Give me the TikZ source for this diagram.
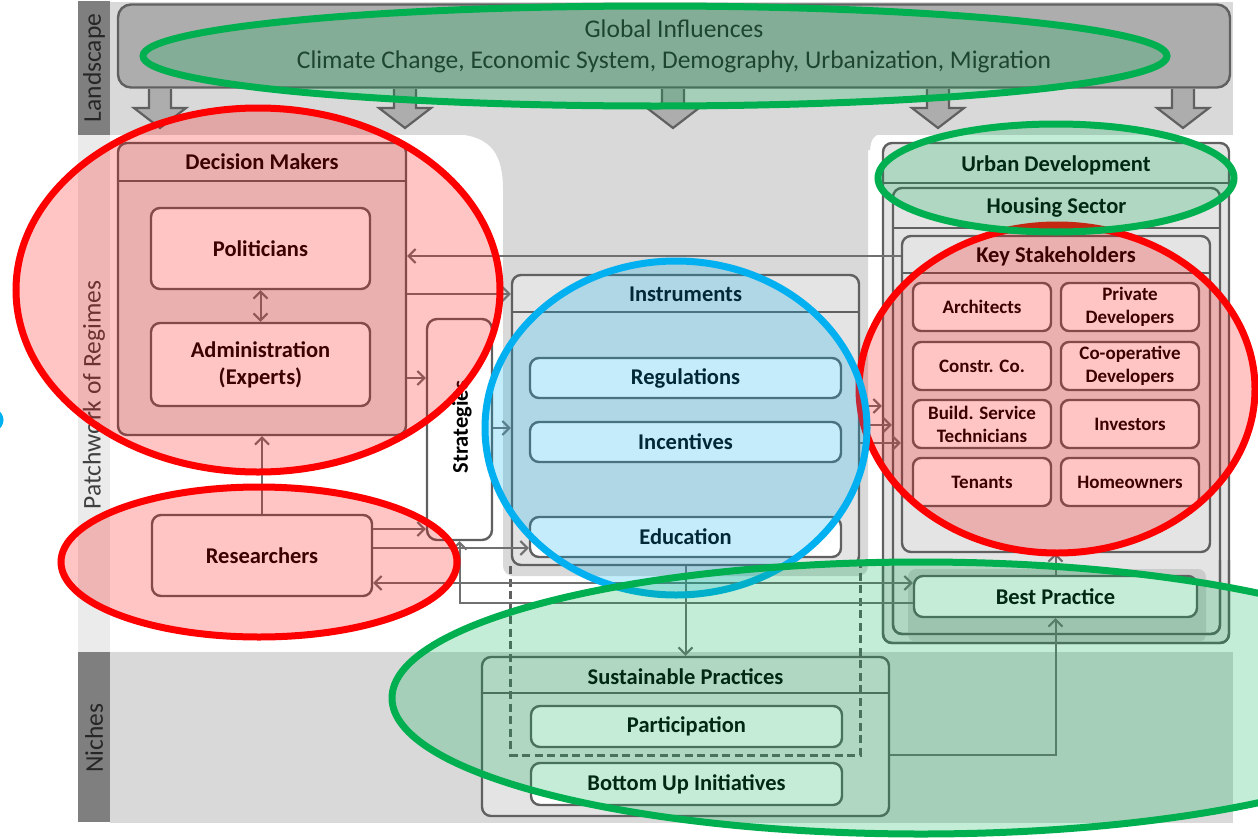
\documentclass[tikz,border=0pt]{standalone}
\usepackage{fontspec}
\setmainfont{Carlito}
\usetikzlibrary{arrows.meta,calc}
\definecolor{bandgray}{HTML}{D9D9D9}
\definecolor{labdark}{HTML}{7F7F7F}
\definecolor{lablight}{HTML}{EBEBEB}
\definecolor{gifill}{HTML}{ADADAD}
\definecolor{contfill}{HTML}{E4E4E4}
\definecolor{bordc}{HTML}{606060}
\definecolor{linec}{HTML}{707070}
\definecolor{shadowc}{HTML}{CBCBCB}
\definecolor{ovred}{HTML}{FF0000}
\definecolor{ovblue}{HTML}{00B0F0}
\definecolor{ovgreen}{HTML}{00B050}
\definecolor{darktext}{HTML}{262626}
\begin{document}
\begin{tikzpicture}[x=1pt,y=-1pt,
  cont/.style={draw=bordc, line width=2.4pt, fill=contfill, rounded corners=9pt, inner sep=0pt},
  ibox/.style={draw=bordc, line width=2.4pt, fill=white, rounded corners=9pt, inner sep=0pt, align=center,
    font=\bfseries\fontsize{22.5}{27}\selectfont},
  sbox/.style={draw=bordc, line width=2.4pt, fill=white, rounded corners=8pt, inner sep=0pt, align=center,
    minimum width=138pt, minimum height=48pt, font=\bfseries\fontsize{19}{23}\selectfont},
  hdr/.style={font=\bfseries\fontsize{22.5}{27}\selectfont, inner sep=0pt},
  hline/.style={draw=bordc, line width=2.4pt},
  conn/.style={draw=linec, line width=2pt, -{Straight Barb[length=7pt,width=14pt]}},
  conn2/.style={draw=linec, line width=2pt, {Straight Barb[length=7pt,width=14pt]}-{Straight Barb[length=7pt,width=14pt]}},
  blockarrow/.style={fill=gifill, draw=bordc, line width=2.2pt, line join=miter},
  bandlbl/.style={rotate=90, font=\fontsize{25.5}{28}\selectfont, text=darktext, inner sep=0pt},
  ovfill/.style={fill opacity=0.23},
  ovline/.style={line width=7pt}
]
\useasboundingbox (0,0) rectangle (1258,838);
% ---------- background bands ----------
\fill[bandgray] (110,2) rectangle (1233,135);
\fill[bandgray] (110,652) rectangle (1233,823);
\fill[bandgray, rounded corners=10pt] (503,110) rectangle (868,576);
\fill[bandgray] (455,134) .. controls (492,136) and (503,155) .. (503,190) -- (503,134) -- cycle;
\fill[bandgray] (868,134) -- (880,134) .. controls (873,136) and (871,140) .. (870,150) -- (868,150) -- cycle;
\fill[labdark] (78,1) rectangle (110,135);
\fill[lablight] (78,135) rectangle (110,652);
\fill[labdark] (78,652) rectangle (110,822);
\node[bandlbl] (lland) at (94,68) {Landscape};
\node[bandlbl, text=black!75] (lreg) at (94,395) {Patchwork of Regimes};
\node[bandlbl] (lniche) at (94,738) {Niches};
% ---------- global influences ----------
\node[draw=bordc, line width=2.4pt, fill=gifill, rounded corners=13pt, minimum width=1112pt, minimum height=83pt,
  inner sep=0pt, align=center, font=\fontsize{25.5}{31}\selectfont, text=darktext] (gi) at (674,46)
  {Global Influences\\Climate Change, Economic System, Demography, Urbanization, Migration};
\foreach \xx in {160,405,673,938,1183}{
  \draw[blockarrow] (\xx-11,89) -- (\xx-11,108) -- (\xx-26,108) -- (\xx,128) -- (\xx+26,108) -- (\xx+11,108) -- (\xx+11,89);
}
% ---------- decision makers ----------
\node[cont, minimum width=288pt, minimum height=292pt] (dm) at (262,289) {};
\node[hdr] (dmh) at (262,162) {Decision Makers};
\draw[hline] (dm.west |- 0,181) -- (dm.east |- 0,181);
\node[ibox, minimum width=219pt, minimum height=81pt] (pol) at (260.5,248.5) {Politicians};
\node[ibox, minimum width=219pt, minimum height=83pt] (adm) at (260.5,364.5) {Administration\\(Experts)};
\node[ibox, minimum width=220pt, minimum height=81pt] (res) at (262,555.5) {Researchers};
\node[ibox, minimum width=65pt, minimum height=221pt, rounded corners=10pt] (str) at (459.5,429.5) {};
\node[hdr, rotate=90] (strt) at (462,427) {Strategies};
% ---------- instruments ----------
\node[cont, minimum width=347pt, minimum height=290pt] (ins) at (685.5,420) {};
\node[hdr] (insh) at (685.5,294) {Instruments};
\draw[hline] (ins.west |- 0,312) -- (ins.east |- 0,312);
\node[ibox, minimum width=311pt, minimum height=40pt] (reg) at (685.5,378) {Regulations};
\node[ibox, minimum width=311pt, minimum height=40pt] (inc) at (685.5,442) {Incentives};
\node[ibox, minimum width=311pt, minimum height=40pt] (edu) at (685.5,537) {Education};
% ---------- urban development ----------
\node[cont, minimum width=346pt, minimum height=500pt] (ud) at (1056,393) {};
\node[hdr] (udh) at (1056,165) {Urban Development};
\draw[hline] (ud.west |- 0,183) -- (ud.east |- 0,183);
\node[cont, minimum width=327pt, minimum height=446pt] (hs) at (1056.5,411) {};
\node[hdr] (hsh) at (1056.5,208) {Housing Sector};
\draw[hline] (hs.west |- 0,228) -- (hs.east |- 0,228);
\node[cont, minimum width=308pt, minimum height=316pt] (ks) at (1056,394) {};
\node[hdr] (ksh) at (1056,256) {Key Stakeholders};
\draw[hline] (ks.west |- 0,273) -- (ks.east |- 0,273);
\node[sbox] (arch) at (982,307) {Architects};
\node[sbox] (pdev) at (1130,307) {Private\\Developers};
\node[sbox] (cco) at (982,366) {Constr. Co.};
\node[sbox] (codev) at (1130,366) {Co-operative\\Developers};
\node[sbox] (bst) at (982,424) {Build. Service\\Technicians};
\node[sbox] (inv) at (1130,424) {Investors};
\node[sbox] (ten) at (982,482) {Tenants};
\node[sbox] (hown) at (1130,482) {Homeowners};
\fill[shadowc, rounded corners=8pt] (908,569) rectangle (1206,642);
\draw[bordc, line width=2.4pt, rounded corners=9pt] (883,560) -- (883,643) -- (1229,643) -- (1229,560);
\draw[bordc, line width=2.4pt, rounded corners=9pt] (893,560) -- (893,634) -- (1220,634) -- (1220,560);
\node[ibox, minimum width=283pt, minimum height=41pt] (bp) at (1055.5,596.5) {Best Practice};
% ---------- sustainable practices ----------
\node[cont, minimum width=407pt, minimum height=159pt] (sp) at (685.5,736.5) {};
\node[hdr] (sph) at (685.5,677) {Sustainable Practices};
\draw[hline] (sp.west |- 0,693) -- (sp.east |- 0,693);
\node[ibox, minimum width=311pt, minimum height=41pt] (par) at (686.5,726.5) {Participation};
\node[ibox, minimum width=311pt, minimum height=42pt] (bui) at (686.5,784) {Bottom Up Initiatives};
\draw[bordc, line width=3pt, dash pattern=on 8pt off 4.5pt] (ins.south west) -- (ins.south west |- 0,755) -- (ins.south east |- 0,755) -- (ins.south east);
% ---------- connectors ----------
\draw[conn2] (pol.south) -- (adm.north);
\draw[conn] (res.north) -- (res.north |- dm.south);
\draw[conn] (dm.east |- 0,378) -- (str.west |- 0,378);
\draw[conn] (ks.west |- 0,256) -- (dm.east |- 0,256);
\draw[conn] (dm.east |- 0,294) -- (ins.west |- 0,294);
\draw[conn] (str.east |- 0,428) -- (ins.west |- 0,428);
\draw[conn] (res.east |- 0,529) -- (str.west |- 0,529);
\draw[conn] (res.east |- 0,548) -- (edu.west |- 0,548);
\draw[conn2] (res.east |- 0,583) -- (bp.west |- 0,583);
\draw[conn] (bp.west |- 0,603) -- (str.south |- 0,603) -- (str.south);
\draw[conn] (ins.east |- 0,406) -- (ud.west |- 0,406);
\draw[conn] (ins.east |- 0,425) -- (hs.west |- 0,425);
\draw[conn] (ins.east |- 0,443) -- (ks.west |- 0,443);
\draw[conn] (ins.south) -- (sp.north);
\draw[conn] (sp.east |- 0,755) -- (bp.south |- 0,755) -- (bp.south);
\draw[conn] (bp.north) -- (bp.north |- ks.south);
% ---------- overlay ellipses ----------
\fill[ovred, ovfill] (258,290) ellipse [x radius=242pt, y radius=182pt];
\draw[ovred, ovline] (258,290) ellipse [x radius=242pt, y radius=182pt];
\fill[ovred, ovfill] (259,562) ellipse [x radius=198pt, y radius=75pt];
\draw[ovred, ovline] (259,562) ellipse [x radius=198pt, y radius=75pt];
\fill[ovred, ovfill] (1057,389) ellipse [x radius=198pt, y radius=164pt];
\draw[ovred, ovline] (1057,389) ellipse [x radius=198pt, y radius=164pt];
\fill[ovblue, ovfill] (676,428) ellipse [x radius=191pt, y radius=167pt];
\draw[ovblue, ovline] (676,428) ellipse [x radius=191pt, y radius=167pt];
\draw[ovblue, line width=5pt] (-19,420) ellipse [x radius=20pt, y radius=13pt];
\fill[ovgreen, ovfill] (655,56) ellipse [x radius=512pt, y radius=50pt];
\draw[ovgreen, ovline] (655,56) ellipse [x radius=512pt, y radius=50pt];
\fill[ovgreen, ovfill] (1056,178) ellipse [x radius=178pt, y radius=54pt];
\draw[ovgreen, ovline] (1056,178) ellipse [x radius=178pt, y radius=54pt];
\fill[ovgreen, ovfill] (921,698) ellipse [x radius=529pt, y radius=136pt];
\draw[ovgreen, ovline] (921,698) ellipse [x radius=529pt, y radius=136pt];
\end{tikzpicture}
\end{document}
